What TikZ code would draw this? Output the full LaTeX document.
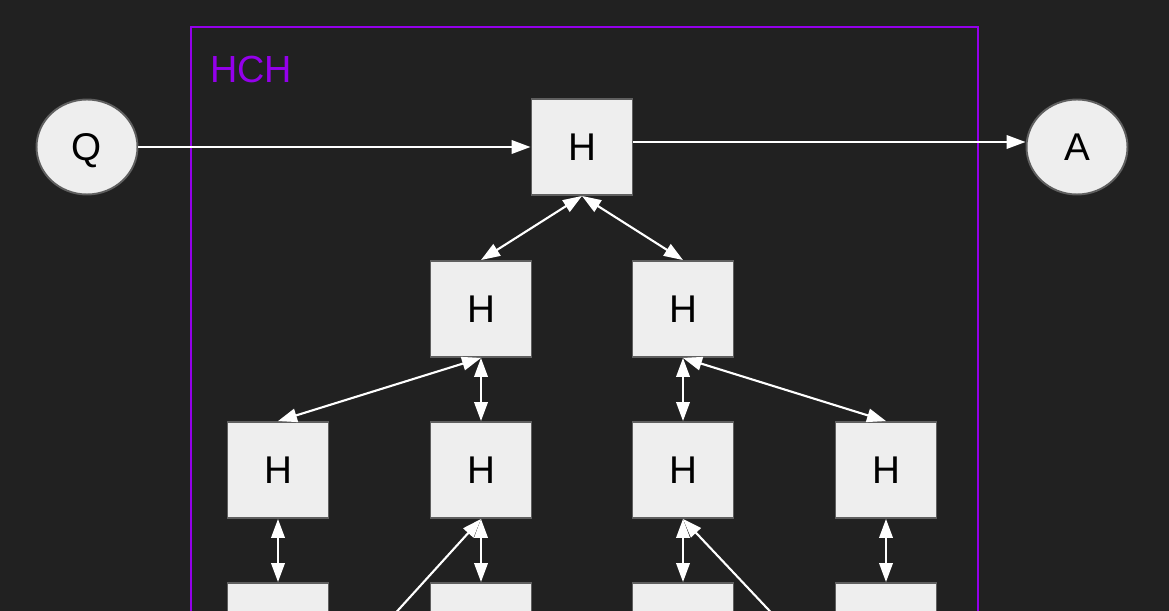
\documentclass[tikz,border=0pt]{standalone}
\usepackage{fontspec}
\setmainfont{Liberation Sans}
\usepackage{tikz}
\usetikzlibrary{arrows.meta,shapes.geometric}
\definecolor{bg}{RGB}{33,33,33}
\definecolor{boxfill}{RGB}{238,238,238}
\definecolor{boxline}{RGB}{95,95,95}
\definecolor{hchpurple}{RGB}{148,0,235}

\begin{document}
\begin{tikzpicture}[x=0.02cm,y=-0.02cm]
                      \tikzstyle{hbox}=[rectangle,draw=boxline,line width=1.1pt,fill=boxfill,minimum width=2.02cm,minimum height=1.92cm,inner sep=0pt,font=\fontsize{22}{26}\selectfont]
                      \tikzstyle{io}=[ellipse,draw=boxline,line width=1.1pt,fill=boxfill,minimum width=2.02cm,minimum height=1.9cm,inner sep=0pt,text depth=0pt,font=\fontsize{22}{26}\selectfont]
                      \tikzstyle{link}=[draw=white,line width=1.2pt,-{Triangle[length=0.38cm,width=0.27cm]}]
                      \tikzstyle{both}=[link,{Triangle[length=0.38cm,width=0.27cm]}-{Triangle[length=0.38cm,width=0.27cm]}]
                      \fill[bg] (0,0) rectangle (1169,611);
                      \useasboundingbox (0,0) rectangle (1169,611);
                      \clip (0,0) rectangle (1169,611);
                      % the HCH frame
                      \draw[hchpurple,line width=1.1pt] (191,27) rectangle (978,650);
                      \node (hch) [anchor=base west,text=hchpurple,inner sep=0pt,font=\fontsize{21.5}{26}\selectfont] at (210,83) {HCH};
                      \node (q) [io] at (87,147) {Q};
                      \node (a) [io] at (1077,147) {A};
                      \node (h) [hbox] at (582,147) {H};
                      \node (h1) [hbox] at (481,309) {H};
                      \node (h2) [hbox] at (683,309) {H};
                      \node (h11) [hbox] at (278,470) {H};
                      \node (h12) [hbox] at (481,470) {H};
                      \node (h21) [hbox] at (683,470) {H};
                      \node (h22) [hbox] at (886,470) {H};
                      % bottom row, only its tops show
                      \node (h111) [hbox] at (278,631) {};
                      \node (h121) [hbox] at (481,631) {};
                      \node (h211) [hbox] at (683,631) {};
                      \node (h221) [hbox] at (886,631) {};
                      \coordinate (lowl) at (371,640);
                      \coordinate (lowr) at (797,640);
                      \draw[link] (q.east) -- (h.west);
                      \draw[link] ([yshift=0.1cm]h.east) -- ([yshift=0.1cm]a.west);
                      \draw[both] (h.south) -- (h1.north);
                      \draw[both] (h.south) -- (h2.north);
                      \draw[both] (h1.south) -- (h11.north);
                      \draw[both] (h1.south) -- (h12.north);
                      \draw[both] (h2.south) -- (h21.north);
                      \draw[both] (h2.south) -- (h22.north);
                      \draw[both] (h11.south) -- (h111.north);
                      \draw[both] (h12.south) -- (h121.north);
                      \draw[both] (h21.south) -- (h211.north);
                      \draw[both] (h22.south) -- (h221.north);
                      \draw[link] (lowl) -- (h12.south);
                      \draw[link] (lowr) -- (h21.south);
                  \end{tikzpicture}
\end{document}
